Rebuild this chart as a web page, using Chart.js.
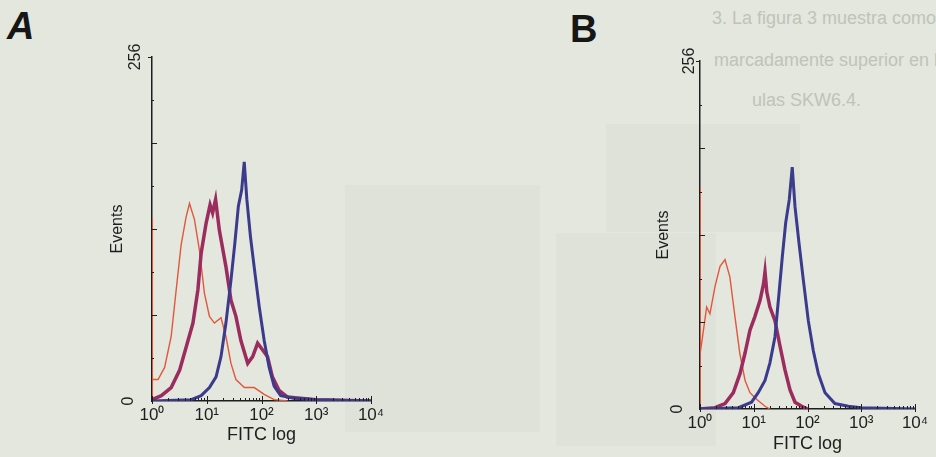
<!DOCTYPE html>
<html>
<head>
<meta charset="utf-8">
<title>FITC histograms</title>
<script src="https://cdn.jsdelivr.net/npm/chart.js@4.4.1/dist/chart.umd.min.js"></script>
<style>
    html, body { margin: 0; padding: 0; }
    body {
        width: 936px; height: 457px; position: relative; overflow: hidden;
        background: #e3e7de;
        font-family: "Liberation Sans", Arial, sans-serif;
    }
    .ghost { position: absolute; background: rgba(110, 115, 105, 0.045); }
    .bleed { position: absolute; color: #bfc3ba; font-size: 18px; line-height: 18px; white-space: nowrap; }
    .letter { position: absolute; font-size: 38px; line-height: 38px; font-weight: bold; color: #161616; }
    .panel { position: absolute; top: 30px; }
</style>
</head>
<body>
<!-- faint show-through from the other side of the page -->
<div class="ghost" style="left:345px; top:185px; width:195px; height:247px;"></div>
<div class="ghost" style="left:556px; top:233px; width:160px; height:213px;"></div>
<div class="ghost" style="left:606px; top:124px; width:194px; height:108px;"></div>
<div class="bleed" style="left:712px; top:9px;">3. La figura 3 muestra como la adhesión a la monocapa de células</div>
<div class="bleed" style="left:714px; top:51px;">marcadamente superior en las células Jurkat (más de dos veces</div>
<div class="bleed" style="left:752px; top:91px;">ulas SKW6.4.</div>

<div class="letter" style="left:7px; top:7px; font-style:italic;">A</div>
<div class="letter" style="left:570px; top:10px;">B</div>

<div class="panel" style="left:60px;"><canvas id="chartA" width="340" height="427"></canvas></div>
<div class="panel" style="left:608px;"><canvas id="chartB" width="360" height="427"></canvas></div>

<script>
// FITC channel values (x) and event counts (y)

// Panel A
const redAx = [1, 1, 1.03, 1.29, 1.7, 2.24, 2.77, 3.4, 4.2, 4.84, 5.97, 7.36, 9.08, 11.2, 13.8, 18.2, 22.4, 27.7, 34.1, 48.6, 73.5, 112, 170, 300];
const redAy = [0, 136, 16, 16, 25, 48, 83, 116, 137, 147, 135, 112, 80, 63, 58, 62, 48, 28, 16, 10, 10, 5, 1, 0];

const magAx = [1, 1.48, 2.24, 3.2, 4.2, 5.6, 6.9, 7.9, 9.7, 11.5, 12.8, 14.5, 17, 22.4, 27.7, 34.1, 42, 56, 69, 85, 105, 129, 158, 209, 295, 1000, 10000];
const magAy = [1, 4, 10, 23, 40, 58, 83, 110, 132, 146, 140, 150, 127, 100, 75, 63, 45, 28, 33, 43, 38, 33, 18, 8, 3, 1, 0];

const bluAx = [1, 5.2, 7.9, 11.2, 14.8, 18.2, 22.4, 27.7, 32.5, 37.8, 43.4, 48.4, 54, 63, 76, 91, 112, 138, 170, 224, 400, 1000, 10000];
const bluAy = [0, 1, 4, 10, 18, 33, 58, 90, 117, 145, 157, 178, 150, 122, 95, 70, 45, 25, 11, 4, 2, 1, 0];

// Panel B
const redBx = [1, 1, 1.02, 1.33, 1.53, 1.9, 2.36, 2.92, 3.6, 4.47, 5.5, 6.9, 8.5, 11.4, 16.2, 20];
const redBy = [0, 163, 41, 75, 70, 90, 105, 110, 97, 68, 41, 21, 12, 7, 2, 0];

const magBx = [1, 1.9, 2.92, 4.17, 5.55, 6.87, 8.5, 10.5, 13.1, 15.2, 16.2, 17.5, 20, 24.8, 30.9, 38, 47.3, 58.6, 78, 100];
const magBy = [0, 1, 4, 12, 26, 41, 58, 68, 80, 92, 101, 86, 75, 65, 46, 29, 14, 5, 2, 0];

const bluBx = [1, 5.2, 9.1, 12.1, 16.2, 20, 24.8, 29.5, 34, 39.3, 45.8, 52, 58.5, 69.5, 83.6, 103.5, 128, 159, 212, 324, 575, 1000, 10000];
const bluBy = [0, 1, 5, 12, 21, 34, 53, 85, 112, 137, 154, 178, 149, 122, 95, 65, 43, 26, 12, 4, 2, 1, 0];

// Axis labelling
const decadeTicks = [1, 10, 100, 1000, 10000];
const decadeLabels = ['10\u2070', '10\u00b9', '10\u00b2', '10\u00b3', '10\u2074'];
const countMajorTicks = [64, 128, 192];
const countMinorTicks = [32, 96, 160, 224];

const RED = '#e2573b';
const MAGENTA = '#9b2d5e';
const BLUE = '#3b3a8c';
const INK = '#1e1e1e';

function toPoints(xs, ys) {
    return xs.map((x, i) => ({ x: x, y: ys[i] }));
}

// draws the small inward ticks and the rotated 256 / 0 labels
const cytometerAxes = {
    id: 'cytometerAxes',
    afterDraw(chart, args, opts) {
        const { ctx, chartArea, scales } = chart;
        const x = scales.x, y = scales.y;
        ctx.save();
        ctx.strokeStyle = INK;
        ctx.lineWidth = 1;
        ctx.beginPath();
        for (let d = 0; d < 4; d++) {
            for (let k = 2; k <= 9; k++) {
                const px = Math.round(x.getPixelForValue(k * Math.pow(10, d))) + 0.5;
                ctx.moveTo(px, chartArea.bottom);
                ctx.lineTo(px, chartArea.bottom - 3);
            }
        }
        decadeTicks.forEach(v => {
            const px = Math.round(x.getPixelForValue(v)) + 0.5;
            ctx.moveTo(px, chartArea.bottom + 3);
            ctx.lineTo(px, chartArea.bottom - 5);
        });
        countMajorTicks.forEach(v => {
            const py = Math.round(y.getPixelForValue(v)) + 0.5;
            ctx.moveTo(chartArea.left, py);
            ctx.lineTo(chartArea.left + 5, py);
        });
        countMinorTicks.forEach(v => {
            const py = Math.round(y.getPixelForValue(v)) + 0.5;
            ctx.moveTo(chartArea.left, py);
            ctx.lineTo(chartArea.left + 2, py);
        });
        const top = Math.round(y.getPixelForValue(256)) + 0.5;
        ctx.moveTo(chartArea.left - 4, top);
        ctx.lineTo(chartArea.left, top);
        ctx.stroke();

        ctx.fillStyle = INK;
        ctx.font = '16px "Liberation Sans", Arial, sans-serif';
        ctx.textAlign = 'center';
        ctx.textBaseline = 'middle';
        ctx.translate(chartArea.left - opts.topLabelGap, y.getPixelForValue(256));
        ctx.rotate(-Math.PI / 2);
        ctx.fillText('256', 0, 0);
        ctx.setTransform(1, 0, 0, 1, 0, 0);
        ctx.translate(chartArea.left - opts.zeroLabelGap, y.getPixelForValue(0));
        ctx.rotate(-Math.PI / 2);
        ctx.fillText('0', 0, 0);
        ctx.restore();
    }
};

function initHistogram(canvasId, series, layout) {
    const ctx = document.getElementById(canvasId);
    if (!ctx) {
        console.error('Canvas not found: ' + canvasId);
        return;
    }

    new Chart(ctx.getContext('2d'), {
        type: 'line',
        data: {
            datasets: [
                {
                    label: 'Blue',
                    data: toPoints(series.blueX, series.blueY),
                    borderColor: BLUE,
                    borderWidth: 3,
                    pointRadius: 0,
                    tension: 0
                },
                {
                    label: 'Magenta',
                    data: toPoints(series.magX, series.magY),
                    borderColor: MAGENTA,
                    borderWidth: 3.5,
                    pointRadius: 0,
                    tension: 0
                },
                {
                    label: 'Red',
                    data: toPoints(series.redX, series.redY),
                    borderColor: RED,
                    borderWidth: 1.4,
                    pointRadius: 0,
                    tension: 0
                }
            ]
        },
        options: {
            responsive: false,
            animation: false,
            events: [],
            layout: {
                padding: { top: layout.padTop, right: layout.padRight, left: 0, bottom: 0 }
            },
            plugins: {
                legend: { display: false },
                tooltip: { enabled: false },
                cytometerAxes: { topLabelGap: layout.topLabelGap, zeroLabelGap: layout.zeroLabelGap }
            },
            scales: {
                x: {
                    type: 'logarithmic',
                    min: 1,
                    max: 10000,
                    afterBuildTicks: scale => {
                        scale.ticks = decadeTicks.map(v => ({ value: v }));
                    },
                    afterFit: scale => {
                        scale.height = layout.xHeight;
                    },
                    ticks: {
                        color: INK,
                        padding: 4,
                        autoSkip: false,
                        maxRotation: 0,
                        font: { size: 17, family: '"Liberation Sans", Arial, sans-serif' },
                        callback: function(value) {
                            const i = decadeTicks.indexOf(value);
                            return i >= 0 ? decadeLabels[i] : '';
                        }
                    },
                    grid: { display: false, drawTicks: false },
                    border: { display: true, color: INK, width: 1.5 },
                    title: {
                        display: true,
                        text: 'FITC log',
                        color: INK,
                        padding: { top: 0, bottom: layout.titleBottom },
                        font: { size: 18, family: '"Liberation Sans", Arial, sans-serif' }
                    }
                },
                y: {
                    min: 0,
                    max: 256,
                    afterFit: scale => {
                        scale.width = 92;
                    },
                    ticks: { display: false },
                    grid: { display: false, drawTicks: false },
                    border: { display: true, color: INK, width: 1.5 },
                    title: {
                        display: true,
                        text: 'Events',
                        color: INK,
                        padding: { top: layout.eventsGap, bottom: 0 },
                        font: { size: 16, family: '"Liberation Sans", Arial, sans-serif' }
                    }
                }
            }
        },
        plugins: [cytometerAxes]
    });
}

initHistogram('chartA', {
    redX: redAx, redY: redAy,
    magX: magAx, magY: magAy,
    blueX: bluAx, blueY: bluAy
}, { padTop: 27, padRight: 29, xHeight: 56, titleBottom: 11, eventsGap: 48, topLabelGap: 16, zeroLabelGap: 23 });

initHistogram('chartB', {
    redX: redBx, redY: redBy,
    magX: magBx, magY: magBy,
    blueX: bluBx, blueY: bluBy
}, { padTop: 31, padRight: 53, xHeight: 48, titleBottom: 2, eventsGap: 46, topLabelGap: 10, zeroLabelGap: 22 });
</script>
</body>
</html>
